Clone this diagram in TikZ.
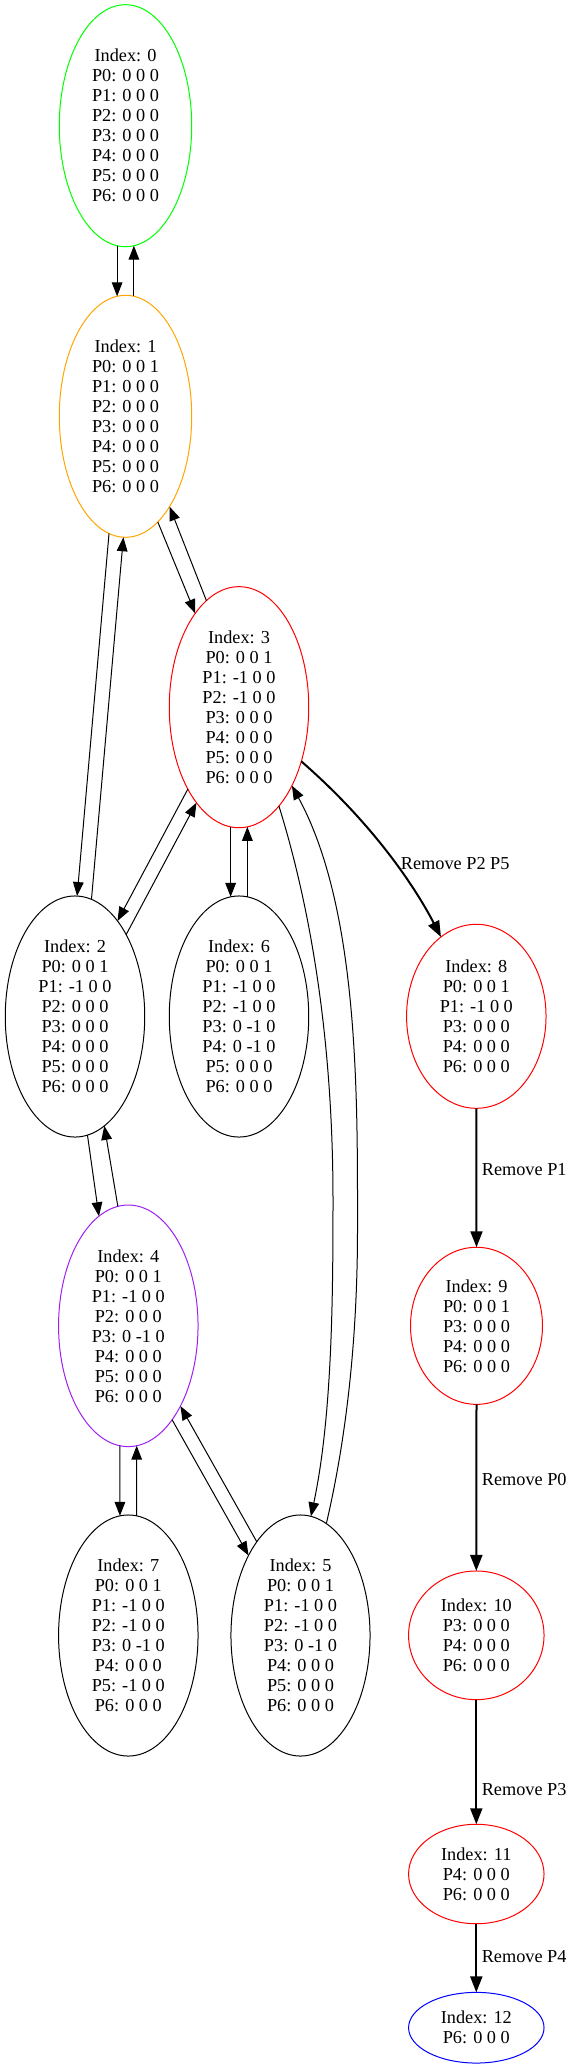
\documentclass[tikz,border=0pt]{standalone}
\usepackage{fontspec}
\setmainfont{Liberation Serif}
\usetikzlibrary{shapes.geometric,arrows.meta}
\definecolor{verde}{RGB}{0,255,0}
\definecolor{naranja}{RGB}{255,165,0}
\definecolor{morado}{RGB}{160,32,240}
\definecolor{rojo}{RGB}{255,0,0}
\definecolor{azul}{RGB}{0,0,255}

\begin{document}
\begin{tikzpicture}[x=0.75pt,y=-0.75pt,
    estado/.style={ellipse,draw,inner sep=0pt,outer sep=0pt,align=center,
      font=\fontsize{13.7}{15}\selectfont,line width=0.75pt},
    tam/.style 2 args={minimum width=#1pt,minimum height=#2pt},
    flecha/.style={-{Triangle[length=10.5pt,width=8pt]},line width=0.75pt},
    grueso/.style={-{Triangle[length=12pt,width=9pt]},line width=1.5pt},
    etiqueta/.style={right,font=\fontsize{13.7}{15}\selectfont}]
        \useasboundingbox (0,0) rectangle (578,2069);
        % Estados de la izquierda
            \node[estado,tam={99.3}{181.5},draw=verde] (n0) at (125.5,125.7) {Index: 0\\P0: 0 0 0\\P1: 0 0 0\\P2: 0 0 0\\P3: 0 0 0\\P4: 0 0 0\\P5: 0 0 0\\P6: 0 0 0};
            \node[estado,tam={99.3}{181.5},draw=naranja] (n1) at (125.5,416.3) {Index: 1\\P0: 0 0 1\\P1: 0 0 0\\P2: 0 0 0\\P3: 0 0 0\\P4: 0 0 0\\P5: 0 0 0\\P6: 0 0 0};
            \node[estado,tam={104.6}{180.8},draw=rojo] (n3) at (239,707.2) {Index: 3\\P0: 0 0 1\\P1: -1 0 0\\P2: -1 0 0\\P3: 0 0 0\\P4: 0 0 0\\P5: 0 0 0\\P6: 0 0 0};
            \node[estado,tam={104.6}{180.8}] (n2) at (75,1016.5) {Index: 2\\P0: 0 0 1\\P1: -1 0 0\\P2: 0 0 0\\P3: 0 0 0\\P4: 0 0 0\\P5: 0 0 0\\P6: 0 0 0};
            \node[estado,tam={104.6}{180.8}] (n6) at (239,1016.5) {Index: 6\\P0: 0 0 1\\P1: -1 0 0\\P2: -1 0 0\\P3: 0 -1 0\\P4: 0 -1 0\\P5: 0 0 0\\P6: 0 0 0};
            \node[estado,tam={104.6}{181.2},draw=morado] (n4) at (128.3,1325.8) {Index: 4\\P0: 0 0 1\\P1: -1 0 0\\P2: 0 0 0\\P3: 0 -1 0\\P4: 0 0 0\\P5: 0 0 0\\P6: 0 0 0};
            \node[estado,tam={104.6}{180.8}] (n7) at (128.3,1635.5) {Index: 7\\P0: 0 0 1\\P1: -1 0 0\\P2: -1 0 0\\P3: 0 -1 0\\P4: 0 0 0\\P5: -1 0 0\\P6: 0 0 0};
            \node[estado,tam={104.3}{180.8}] (n5) at (300.5,1635.5) {Index: 5\\P0: 0 0 1\\P1: -1 0 0\\P2: -1 0 0\\P3: 0 -1 0\\P4: 0 0 0\\P5: 0 0 0\\P6: 0 0 0};
            % Estados del camino de salida
            \node[estado,tam={104.6}{138},draw=rojo] (n8) at (476.3,1016.3) {Index: 8\\P0: 0 0 1\\P1: -1 0 0\\P3: 0 0 0\\P4: 0 0 0\\P6: 0 0 0};
            \node[estado,tam={99}{117.8},draw=rojo] (n9) at (476.5,1325.8) {Index: 9\\P0: 0 0 1\\P3: 0 0 0\\P4: 0 0 0\\P6: 0 0 0};
            \node[estado,tam={101.6}{96.5},draw=rojo] (n10) at (476.3,1635.3) {Index: 10\\P3: 0 0 0\\P4: 0 0 0\\P6: 0 0 0};
            \node[estado,tam={101.6}{74.6},draw=rojo] (n11) at (476.3,1874) {Index: 11\\P4: 0 0 0\\P6: 0 0 0};
            \node[estado,tam={101.6}{53},draw=azul] (n12) at (476.3,2027.7) {Index: 12\\P6: 0 0 0};

            % Conectores de ida y vuelta
            \draw[flecha] (n0.266) -- (n1.94);
            \draw[flecha] (n1.86) -- (n0.274);
            \draw[flecha] (n1.287) -- (n3.115);
            \draw[flecha] (n3.107) -- (n1.296);
            \draw[flecha] (n1.262) -- (n2.89);
            \draw[flecha] (n2.82) -- (n1.269);
            \draw[flecha] (n3.238) -- (n2.66);
            \draw[flecha] (n2.58) -- (n3.246);
            \draw[flecha] (n3.266) -- (n6.94);
            \draw[flecha] (n6.86) -- (n3.274);
            \draw[flecha] (n3.292) .. controls (318,932) and (333,1070) .. (333,1200) .. controls (333,1300) and (332,1417) .. (n5.85);
            \draw[flecha] (n5.77) .. controls (348,1431) and (357.5,1330) .. (357.5,1230) .. controls (357.5,1100) and (359.5,910) .. (n3.304);
            \draw[flecha] (n2.276) -- (n4.105);
            \draw[flecha] (n4.95) -- (n2.285);
            \draw[flecha] (n4.266) -- (n7.94);
            \draw[flecha] (n7.86) -- (n4.274);
            \draw[flecha] (n4.295) -- (n5.123);
            \draw[flecha] (n5.115) -- (n4.303);

            % Camino de salida
            \draw[grueso] (n3.319) .. controls (384.2,833.6) and (422.9,902.1) .. (n8.114) node[pos=0.5,etiqueta] {Remove P2 P5};
            \draw[grueso] (n8.south) -- (n9.north) node[pos=0.44,etiqueta] {Remove P1};
            \draw[grueso] (n9.south) -- (n10.north) node[pos=0.45,etiqueta] {Remove P0};
            \draw[grueso] (n10.south) -- (n11.north) node[pos=0.72,etiqueta] {Remove P3};
            \draw[grueso] (n11.south) -- (n12.north) node[pos=0.48,etiqueta] {Remove P4};
        \end{tikzpicture}
\end{document}
